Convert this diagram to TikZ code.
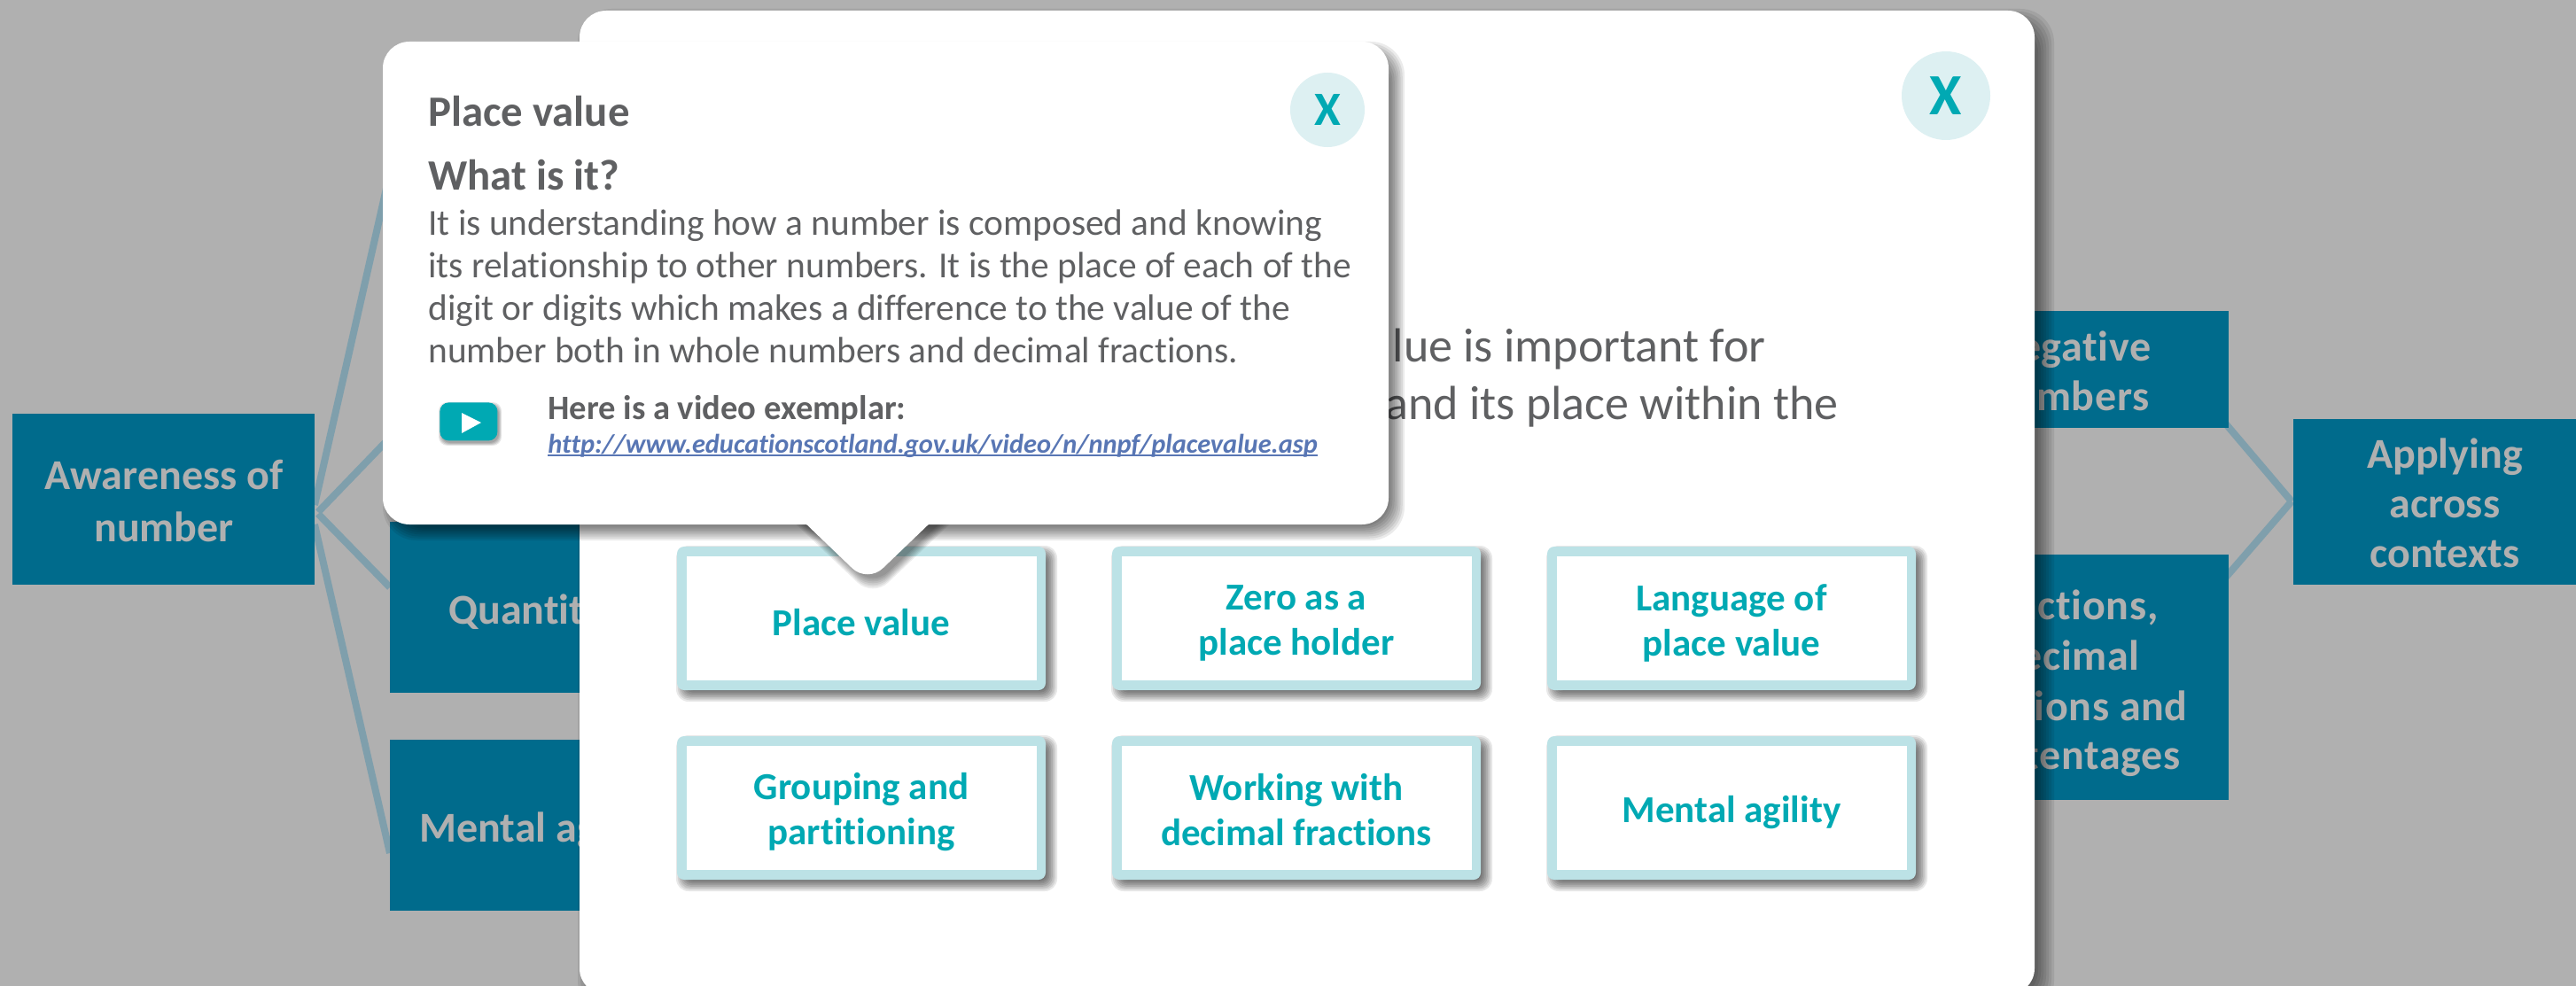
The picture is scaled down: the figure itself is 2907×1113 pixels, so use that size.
\documentclass[tikz,border=0pt]{standalone}
\usepackage{fontspec}
\usetikzlibrary{calc}
\setmainfont[Ligatures=NoCommon]{Carlito}
\definecolor{bgc}{HTML}{B0B0B0}
\definecolor{boxc}{HTML}{006B8C}
\definecolor{linec}{HTML}{7F9FAC}
\definecolor{cardb}{HTML}{BCE2E6}
\definecolor{tealc}{HTML}{00A9B3}
\definecolor{xbg}{HTML}{DDF0F2}
\definecolor{greyt}{HTML}{5F6062}
\definecolor{linkc}{HTML}{5876B4}
\newcommand\softshadow[8]{%
  \foreach \s in {0,...,8}{%
    \pgfmathsetmacro\e{#8*(\s-4)/4}%
    \fill[black,opacity=#6,rounded corners=#5pt+\s*0.5pt]
      ({#1-\e+#7},{#2-\e+#7}) rectangle ({#3+\e+#7},{#4+\e+#7});
  }%
}
\newcommand\cardbox[4]{%
  \softshadow{#2-208}{#3-81}{#2+208}{#3+81}{3}{0.09}{6}{7}
  \node[cardouter] (#1o) at (#2,#3) {};
  \node[cardinner] (#1i) at (#2,#3) {};
  \node[cardlabel] (#1) at ({#2},{#3+5}) {#4};
}
\newcommand\wideltr{\addfontfeature{LetterSpace=1.5}}
\tikzset{
  x=0.5pt,y=-0.5pt,
  hbox/.style={fill=boxc,draw=none,inner sep=0pt,outer sep=0pt,anchor=north west},
  hlabel/.style={text=bgc,inner sep=0pt,font=\fontsize{24pt}{28pt}\selectfont\bfseries},
  conn/.style={draw=linec,line width=4pt},
  cardouter/.style={fill=cardb,rounded corners=4pt,minimum width=208pt,minimum height=81pt,inner sep=0pt},
  cardinner/.style={fill=white,minimum width=197.5pt,minimum height=70pt,inner sep=0pt},
  cardlabel/.style={inner sep=0pt,text=tealc,align=center,font=\fontsize{21.5pt}{25.5pt}\selectfont\bfseries},
  closeb/.style={circle,fill=xbg,text=tealc,inner sep=0pt,font=\bfseries},
  head/.style={anchor=base west,inner sep=0pt,text=greyt,font=\fontsize{24.4pt}{28pt}\selectfont\bfseries},
  bodyt/.style={anchor=base west,inner sep=0pt,text=greyt,font=\fontsize{20.7pt}{24pt}\selectfont},
  leadt/.style={anchor=base east,inner sep=0pt,text=greyt,font=\fontsize{27pt}{32pt}\selectfont},
}
\begin{document}
\begin{tikzpicture}
\clip (0,0) rectangle (2907,1113);
\fill[bgc] (0,0) rectangle (2907,1113);
% connectors
\coordinate (a1) at (355,570);
\coordinate (a2) at (359,578);
\coordinate (a3) at (359,580);
\coordinate (a4) at (355,592);
\coordinate (t1) at (440,195);
\coordinate (t2) at (440,494);
\coordinate (q1) at (440,663);
\coordinate (m1) at (440,963);
\draw[conn] (a1) -- (t1);
\draw[conn] (a2) -- (t2);
\draw[conn] (a3) -- (q1);
\draw[conn] (a4) -- (m1);
\coordinate (n1) at (2508,474);
\coordinate (f1) at (2508,656);
\coordinate (ap1) at (2586,566);
\draw[conn] (n1) -- (ap1);
\draw[conn] (f1) -- (ap1);
\node[hbox,minimum width=170.5pt,minimum height=96.5pt] (aw) at (14,467) {};
\node[hbox,minimum width=170.5pt,minimum height=96.5pt] (qu) at (440,589) {};
\node[hbox,minimum width=170.5pt,minimum height=96.5pt] (me) at (440,835) {};
\node[hbox,minimum width=170.5pt,minimum height=66pt] (ne) at (2174,351) {};
\node[hbox,minimum width=170.5pt,minimum height=138.5pt] (fr) at (2174,626) {};
\node[hbox,minimum width=159.5pt,minimum height=93.5pt] (ap) at (2588,473) {};
% box labels
\node[hlabel,align=center] (awt) at (185,565) {Awareness of\\[1.5pt]number};
\node[hlabel,anchor=base west] (qut) at (506,704) {Quantit};
\node[hlabel,anchor=base west] (met) at (473,950) {Mental ag};
\node[hlabel,anchor=base east] (ne1) at (2428,407) {{\wideltr egative}};
\node[hlabel,anchor=base east] (ne2) at (2426,463) {{\wideltr umbers}};
\node[hlabel,anchor=base east] (fr1) at (2436,699) {{\wideltr actions,}};
\node[hlabel,anchor=base east] (fr2) at (2415,756) {{\wideltr ecimal}};
\node[hlabel,anchor=base east] (fr3) at (2469,813) {{\wideltr tions and}};
\node[hlabel,anchor=base east] (fr4) at (2461,868) {{\wideltr tentages}};
\node[hlabel,align=center] (apt) at (2759,568) {Applying\\across\\contexts};
% modal
\softshadow{654}{12}{2296}{1123}{15}{0.08}{10}{12}
\fill[white,rounded corners=15pt] (654,12) rectangle (2296,1123);
\node[closeb,minimum size=50pt,font=\fontsize{33pt}{36pt}\selectfont\bfseries] (mx) at (2196,108) {X};
\node[leadt] (l1) at (1993,408) {lue is important for};
\node[leadt] (l2) at (2075,473) {and its place within the};
% cards
\cardbox{c1}{972}{698}{Place value}
\cardbox{c2}{1463}{698}{Zero as a\\place holder}
\cardbox{c3}{1954}{698}{Language of\\place value}
\cardbox{c4}{972}{912}{Grouping and\\partitioning}
\cardbox{c5}{1463}{912}{Working with\\decimal fractions\vphantom{p}}
\cardbox{c6}{1954}{912}{Mental agility}
% popup
\softshadow{432}{47}{1567}{592}{15}{0.08}{9}{9}
\foreach \s in {0,...,6}{
  \fill[black,opacity=0.07,rounded corners=12pt] ({856+6-(6-\s)*2},{540+6}) -- ({979+6},{658+4+(6-\s)*2}) -- ({1102+6+(6-\s)*2},{540+6}) -- cycle;
}
\fill[white,rounded corners=15pt] (432,47) rectangle (1567,592);
\fill[white,rounded corners=12pt] (856,540) -- (979,658) -- (1102,540) -- cycle;
\node[closeb,minimum size=42pt,font=\fontsize{27pt}{30pt}\selectfont\bfseries] (px) at (1498,124) {X};
\node[head] (h1) at (483,142) {Place value};
\node[head] (h2) at (483,214) {What is it?};
\node[bodyt] (b1) at (483,265) {It is understanding how a number is composed and knowing};
\node[bodyt] (b2) at (483,313) {its relationship to other numbers. It is the place of each of the};
\node[bodyt] (b3) at (483,361) {digit or digits which makes a difference to the value of the};
\node[bodyt] (b4) at (483,409) {number both in whole numbers and decimal fractions.};
\foreach \s in {0,...,3}{
  \fill[black,opacity=0.1,rounded corners=5pt] ({496+2-\s},{454+3-\s}) rectangle ({561+2+\s},{497+3+\s});
}
\node[fill=tealc,rounded corners=5pt,minimum width=32.5pt,minimum height=21.5pt,inner sep=0pt,anchor=north west] (pb) at (496,454) {};
\fill[white] (521,466) -- (543,477) -- (521,489) -- cycle;
\node[head,font=\fontsize{19.3pt}{22pt}\selectfont\bfseries] (v1) at (618,473) {Here is a video exemplar:};
\node[head,text=linkc,font=\fontsize{15.2pt}{20pt}\selectfont\bfseries\itshape] (v2) at (618,511) {http://www.educationscotland.gov.uk/video/n/nnpf/placevalue.asp};
\draw[linkc,line width=0.8pt] ([yshift=-1.5pt]v2.base west) -- ([yshift=-1.5pt]v2.base east);
\end{tikzpicture}
\end{document}
